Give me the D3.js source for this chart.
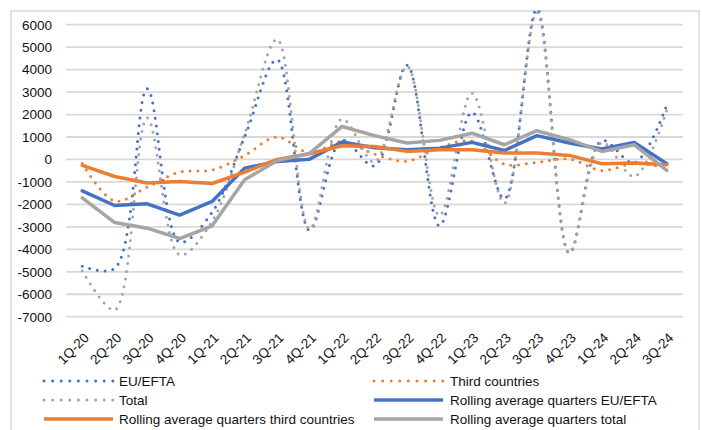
<!DOCTYPE html>
<html>
<head>
<meta charset="utf-8">
<script src="https://cdn.jsdelivr.net/npm/d3@7"></script>
<style>
  html, body { margin: 0; padding: 0; background: #fff; }
  svg { display: block; font-family: "Liberation Sans", Arial, sans-serif; }
</style>
</head>
<body>
<svg id="chart" width="702" height="430"></svg>
<script>
// Quarterly net migration by origin, with four-quarter rolling averages
const quarters = ["1Q-20","2Q-20","3Q-20","4Q-20","1Q-21","2Q-21","3Q-21","4Q-21",
  "1Q-22","2Q-22","3Q-22","4Q-22","1Q-23","2Q-23","3Q-23","4Q-23","1Q-24","2Q-24","3Q-24"];

const euEfta         = [-4750, -4850, 3150, -3680, -2350, 1000, 4450, -3150, 850, -280, 4200, -2950, 2100, -1750, 6700, -4170, 830, -150, 2420];
const thirdCountries = [-180, -1850, -1230, -560, -470, 180, 1000, 290, 800, 240, -70, 530, 820, -210, -130, 20, -490, -180, -380];
const total          = [-4950, -6700, 1850, -4250, -2750, 1150, 5350, -3100, 1800, -120, 4150, -2500, 2950, -1950, 6550, -4170, 750, -760, 2200];

const rollingEuEfta  = [-1395, -2050, -1975, -2480, -1870, -385, -90, 15, 780, 520, 430, 505, 760, 400, 1060, 730, 465, 760, -190];
const rollingThird   = [-267, -757, -1050, -980, -1070, -560, 0, 254, 610, 580, 360, 430, 430, 285, 285, 180, -190, -160, -236];
const rollingTotal   = [-1707, -2810, -3060, -3520, -2956, -905, -60, 270, 1470, 1060, 730, 850, 1170, 655, 1280, 880, 357, 655, -490];

const yTicks = d3.range(-7000, 6001, 1000);

const BLUE = "#4472C4", ORANGE = "#ED7D31", GRAY = "#A5A5A5";

const series = [
  { name: "EU/EFTA", values: euEfta, color: BLUE, dotted: true },
  { name: "Third countries", values: thirdCountries, color: ORANGE, dotted: true },
  { name: "Total", values: total, color: GRAY, dotted: true },
  { name: "Rolling average quarters EU/EFTA", values: rollingEuEfta, color: BLUE, dotted: false },
  { name: "Rolling average quarters third countries", values: rollingThird, color: ORANGE, dotted: false },
  { name: "Rolling average quarters total", values: rollingTotal, color: GRAY, dotted: false }
];

const svg = d3.select("#chart");

// outer chart frame
svg.append("rect")
  .attr("x", 11).attr("y", 11)
  .attr("width", 688).attr("height", 440)
  .attr("fill", "none")
  .attr("stroke", "#d9d9d9")
  .attr("stroke-width", 1.5);

const x = d3.scalePoint().domain(quarters).range([66, 683]).padding(0.5);
const y = d3.scaleLinear().domain([-7000, 6000]).range([316.7, 24.7]);

// horizontal gridlines
svg.append("g").selectAll("line")
  .data(yTicks)
  .join("line")
  .attr("x1", 66).attr("x2", 683)
  .attr("y1", d => y(d)).attr("y2", d => y(d))
  .attr("stroke", "#d9d9d9")
  .attr("stroke-width", 1.8);

// y axis labels
const yAxis = svg.append("g")
  .attr("transform", "translate(66,0)")
  .call(d3.axisLeft(y).tickValues(yTicks).tickSize(0).tickPadding(14).tickFormat(d => String(d)));
yAxis.select(".domain").remove();
yAxis.selectAll("text")
  .attr("font-size", "13.5px")
  .attr("font-family", "Liberation Sans, Arial, sans-serif")
  .attr("fill", "#111");

// x axis labels, rotated
const xAxis = svg.append("g")
  .attr("transform", "translate(0,316.7)")
  .call(d3.axisBottom(x).tickSize(0).tickFormat(d => d));
xAxis.select(".domain").remove();
xAxis.selectAll(".tick text")
  .attr("font-size", "13.5px")
  .attr("font-family", "Liberation Sans, Arial, sans-serif")
  .attr("fill", "#111")
  .attr("text-anchor", "end")
  .attr("y", 0).attr("dy", 0)
  .attr("transform", "translate(7,22) rotate(-45)");

// series lines: smoothed dotted raw series, straight solid rolling averages
const smoothLine = d3.line()
  .x((d, i) => x(quarters[i]))
  .y(d => y(d))
  .curve(d3.curveCatmullRom.alpha(0.5));
const straightLine = d3.line()
  .x((d, i) => x(quarters[i]))
  .y(d => y(d));

const lines = svg.append("g").attr("fill", "none");
series.forEach(s => {
  const p = lines.append("path")
    .datum(s.values)
    .attr("d", s.dotted ? smoothLine : straightLine)
    .attr("stroke", s.color)
    .attr("stroke-linejoin", "round");
  if (s.dotted) {
    p.attr("stroke-width", 3)
     .attr("stroke-linecap", "round")
     .attr("stroke-dasharray", "0 7.8");
  } else {
    p.attr("stroke-width", 3.5)
     .attr("stroke-linecap", "round");
  }
});

// legend, two columns filled row by row
const legendCols = [{ sx: 44, tx: 119 }, { sx: 374, tx: 450 }];
const legendRows = [381, 400, 419];
const legend = svg.append("g");
series.forEach((s, i) => {
  const col = legendCols[i % 2];
  const ry = legendRows[Math.floor(i / 2)];
  const sym = legend.append("line")
    .attr("x1", col.sx).attr("x2", col.sx + 69)
    .attr("y1", ry).attr("y2", ry)
    .attr("stroke", s.color)
    .attr("stroke-linecap", "round");
  if (s.dotted) {
    sym.attr("stroke-width", 3).attr("stroke-dasharray", "0 8.6");
  } else {
    sym.attr("stroke-width", 3.5).attr("stroke-linecap", "butt");
  }
  legend.append("text")
    .attr("x", col.tx).attr("y", ry)
    .attr("dy", "0.36em")
    .attr("font-size", "13.5px")
    .attr("fill", "#111")
    .text(s.name);
});
</script>
</body>
</html>
